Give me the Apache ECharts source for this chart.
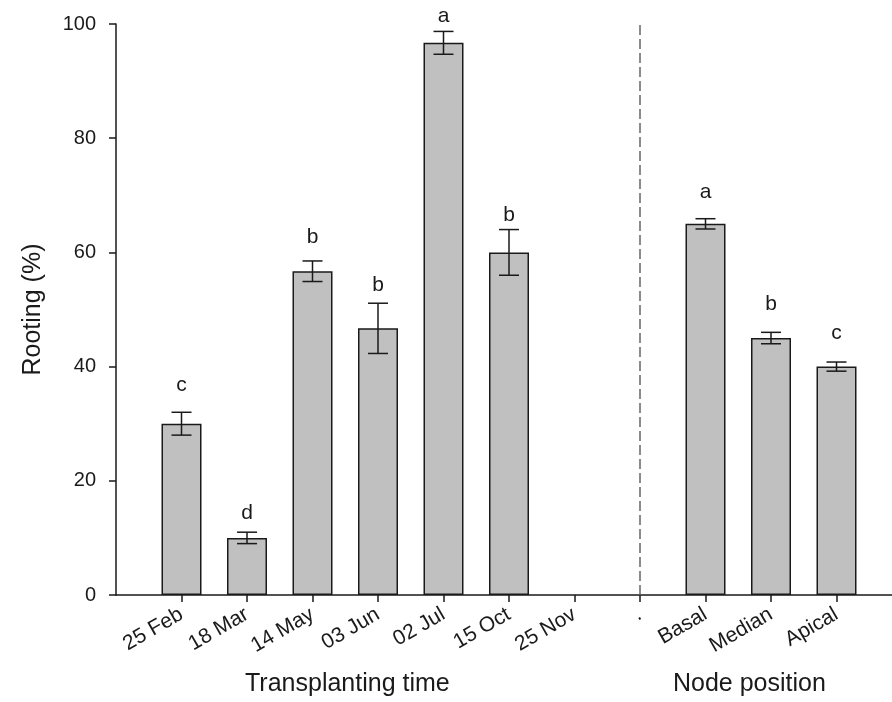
<!DOCTYPE html>
<html>
<head>
<meta charset="utf-8">
<script src="https://cdn.jsdelivr.net/npm/echarts@6/dist/echarts.min.js"></script>
<style>
  html, body { margin: 0; padding: 0; background: #fff; }
  #chart { width: 892px; height: 702px; }
</style>
</head>
<body>
<div id="chart"></div>
<script>
// Rooting percentage by transplanting time and by node position
const categories = ['25 Feb', '18 Mar', '14 May', '03 Jun', '02 Jul', '15 Oct', '25 Nov', '.', 'Basal', 'Median', 'Apical'];
const rooting = [30, 10, 56.7, 46.7, 96.7, 60, null, null, 65, 45, 40];
const stdErr = [2, 1, 1.8, 4.4, 2, 4, null, null, 0.9, 1, 0.8];
const letters = ['c', 'd', 'b', 'b', 'a', 'b', '', '', 'a', 'b', 'c'];
const letterAt = [36.8, 14.3, 62.6, 54.3, 101.3, 66.6, null, null, 70.6, 50.9, 45.8];
const yTicks = [0, 20, 40, 60, 80, 100];
const groupTitles = ['Transplanting time', 'Node position'];

const FONT = '"Liberation Sans", Arial, sans-serif';
const INK = '#1a1a1a';

// bar positions along the x value axis: 1..n
const positions = categories.map((_, i) => i + 1);
const barData = rooting.map((v, i) => [positions[i], v]);
const errData = rooting.map((v, i) => [positions[i], v, stdErr[i]]);

const chart = echarts.init(document.getElementById('chart'), null, { renderer: 'canvas' });

chart.setOption({
  backgroundColor: '#ffffff',
  animation: false,
  grid: {
    left: 116, top: 24, width: 786, height: 571,
    outerBoundsMode: 'none', containLabel: false
  },
  xAxis: {
    type: 'value',
    min: 0, max: 12,
    axisLine: { show: true, onZero: false, lineStyle: { color: INK, width: 1.5 } },
    axisTick: {
      show: true, customValues: positions, length: 7, inside: false,
      lineStyle: { color: INK, width: 1.5 }
    },
    axisLabel: {
      show: true, customValues: positions, rotate: 30, margin: 18,
      fontFamily: FONT, fontSize: 21, color: INK,
      formatter: v => categories[Math.round(v) - 1] || ''
    },
    splitLine: { show: false }
  },
  yAxis: {
    type: 'value',
    min: 0, max: 100, interval: 20,
    name: 'Rooting (%)',
    nameLocation: 'middle',
    nameGap: 70,
    nameTextStyle: { fontFamily: FONT, fontSize: 25, color: INK },
    axisLine: { show: true, lineStyle: { color: INK, width: 1.5 } },
    axisTick: { show: true, length: 7, inside: false, lineStyle: { color: INK, width: 1.5 } },
    axisLabel: {
      margin: 20, fontFamily: FONT, fontSize: 20, color: INK,
      customValues: yTicks
    },
    splitLine: { show: false }
  },
  graphic: [
    {
      type: 'text', left: 245, top: 672,
      style: { text: groupTitles[0], fontFamily: FONT, fontSize: 25, fill: INK }
    },
    {
      type: 'text', left: 673, top: 672,
      style: { text: groupTitles[1], fontFamily: FONT, fontSize: 25, fill: INK }
    }
  ],
  series: [
    {
      type: 'bar',
      data: barData,
      barWidth: 40,
      itemStyle: { color: '#c0c0c0', borderColor: INK, borderWidth: 1.5 },
      markLine: {
        silent: true,
        symbol: 'none',
        label: { show: false },
        lineStyle: { type: [10, 4], color: '#666', width: 1.5 },
        data: [{ xAxis: 8 }]
      }
    },
    {
      type: 'custom',
      data: errData,
      clip: false,
      z: 5,
      renderItem: function (params, api) {
        const x = api.value(0);
        const v = api.value(1);
        const e = api.value(2);
        const children = [];
        if (v == null || isNaN(v)) return { type: 'group', children: [] };
        const top = api.coord([x, v + e]);
        const bot = api.coord([x, v - e]);
        const half = 10;
        const ls = { stroke: INK, lineWidth: 1.5 };
        children.push(
          { type: 'line', shape: { x1: top[0], y1: top[1], x2: bot[0], y2: bot[1] }, style: ls },
          { type: 'line', shape: { x1: top[0] - half, y1: top[1], x2: top[0] + half, y2: top[1] }, style: ls },
          { type: 'line', shape: { x1: bot[0] - half, y1: bot[1], x2: bot[0] + half, y2: bot[1] }, style: ls }
        );
        const txt = letters[params.dataIndex];
        const at = letterAt[params.dataIndex];
        if (txt && at != null) {
          const p = api.coord([x, at]);
          children.push({
            type: 'text',
            style: {
              text: txt, x: p[0], y: p[1], align: 'center', verticalAlign: 'middle',
              fontFamily: FONT, fontSize: 21, fill: INK
            }
          });
        }
        return { type: 'group', children: children };
      }
    }
  ]
});
</script>
</body>
</html>
